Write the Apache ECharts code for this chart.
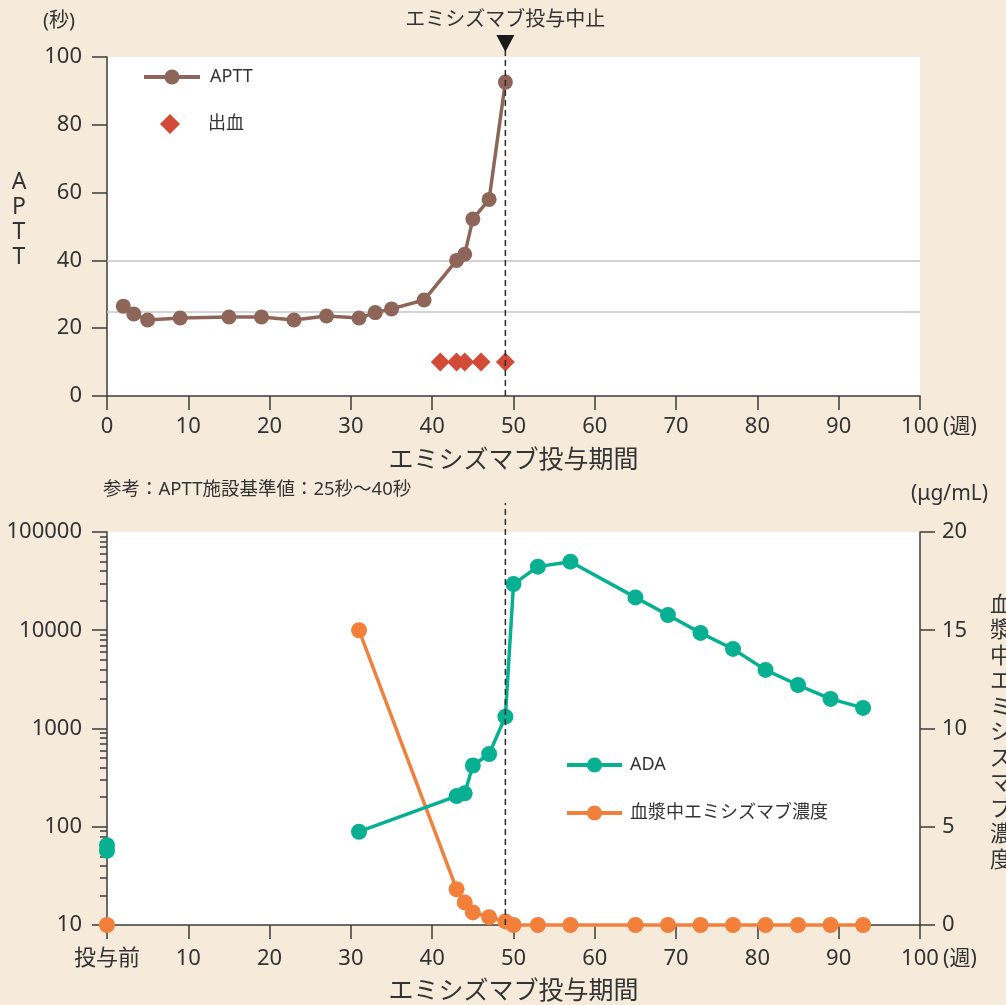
<!DOCTYPE html>
<html>
<head>
<meta charset="utf-8">
<script src="https://cdn.jsdelivr.net/npm/echarts@6/dist/echarts.min.js"></script>
<style>
  html, body { margin: 0; padding: 0; background: #F6EADB; }
  #chart { width: 1006px; height: 1005px; }
</style>
</head>
<body>
<div id="chart"></div>
<script>
// ---- Data ----
const apttWeeks  = [2, 3.3, 5, 9, 15, 19, 23, 27, 31, 33, 35, 39, 43, 44, 45, 47, 49];
const apttValues = [26.5, 24.2, 22.4, 23, 23.3, 23.3, 22.4, 23.6, 23, 24.6, 25.7, 28.3, 40, 41.8, 52.2, 58, 92.6];
const bleedWeeks  = [41, 43, 44, 46, 49];
const bleedValues = [10, 10, 10, 10, 10];
const apttRefRange = [25, 40];
const stopWeek = 49;

const adaPreWeeks  = [0, 0];
const adaPreValues = [65, 57];
const adaWeeks  = [31, 43, 44, 45, 47, 49, 50, 53, 57, 65, 69, 73, 77, 81, 85, 89, 93];
const adaValues = [89, 205, 219, 420, 550, 1320, 29500, 44400, 49900, 21600, 14300, 9400, 6450, 3950, 2770, 2000, 1620];
const concPreWeeks  = [0];
const concPreValues = [0];
const concWeeks  = [31, 43, 44, 45, 47, 49, 50, 53, 57, 65, 69, 73, 77, 81, 85, 89, 93];
const concValues = [15, 1.82, 1.15, 0.64, 0.4, 0.18, 0, 0, 0, 0, 0, 0, 0, 0, 0, 0, 0];

const xTicks = [0, 10, 20, 30, 40, 50, 60, 70, 80, 90, 100];
const apttTicks = [0, 20, 40, 60, 80, 100];
const adaTicks = [10, 100, 1000, 10000, 100000];
const concTicks = [0, 5, 10, 15, 20];

// ---- Styles ----
const FONT = '"Noto Sans", "Noto Sans CJK JP", sans-serif';
const TXT = '#333333';
const AX = '#3d3d3d';
const BROWN = '#8E6559';
const RED = '#D24B37';
const TEAL = '#07B091';
const ORANGE = '#F2803B';

const zip = (a, b) => a.map((v, i) => [v, b[i]]);

function xAxisCfg(gridIndex, zeroLabel, nameGap, labelMargin) {
  return {
    type: 'value', gridIndex, min: xTicks[0], max: xTicks[xTicks.length - 1], interval: 10,
    name: 'エミシズマブ投与期間', nameLocation: 'middle', nameGap,
    nameTextStyle: { fontFamily: FONT, fontSize: 25, color: TXT },
    axisLine: { show: true, lineStyle: { color: AX, width: 1.5 } },
    axisTick: { show: true, length: 14, lineStyle: { color: AX, width: 1.5 } },
    axisLabel: {
      margin: labelMargin, fontFamily: FONT, fontSize: 22, color: TXT,
      formatter: v => v === 0 && zeroLabel ? zeroLabel : (v === 100 ? '{p|}100{u|(週)}' : String(v)),
      rich: {
        p: { width: 40, fontSize: 22 },
        u: { fontFamily: FONT, fontSize: 21, color: TXT, padding: [0, 0, 0, 2], width: 38 }
      }
    },
    splitLine: { show: false }
  };
}

const legendText = { fontFamily: FONT, fontSize: 18, color: TXT };

const chart = echarts.init(document.getElementById('chart'), null, { renderer: 'canvas' });

const option = {
  backgroundColor: '#F6EADB',
  animation: false,
  textStyle: { fontFamily: FONT },
  grid: [
    { left: 107, right: 86, top: 57, height: 339, show: true, backgroundColor: '#ffffff', borderWidth: 0 },
    { left: 107, right: 86, top: 532, height: 393, show: true, backgroundColor: '#ffffff', borderWidth: 0 }
  ],
  legend: [
    {
      data: ['APTT'], orient: 'vertical', left: 142, top: 68, padding: 0,
      itemWidth: 56, itemHeight: 19,
      lineStyle: { width: 4 },
      textStyle: Object.assign({ padding: [0, 0, 0, 5] }, legendText)
    },
    {
      data: ['出血'], orient: 'vertical', left: 160, top: 114, padding: 0,
      itemWidth: 20, itemHeight: 20,
      textStyle: Object.assign({ padding: [0, 0, 0, 23] }, legendText)
    },
    {
      data: ['ADA', '血漿中エミシズマブ濃度'], orient: 'vertical', left: 565, top: 756, padding: 0,
      itemWidth: 55, itemHeight: 19, itemGap: 30,
      lineStyle: { width: 4 },
      textStyle: Object.assign({ padding: [0, 0, 0, 3] }, legendText)
    }
  ],
  xAxis: [ xAxisCfg(0, null, 52, 20), xAxisCfg(1, '投与前', 54, 23) ],
  yAxis: [
    {
      type: 'value', gridIndex: 0, min: apttTicks[0], max: apttTicks[apttTicks.length - 1], interval: 20,
      axisLine: { show: true, lineStyle: { color: AX, width: 1.5 } },
      axisTick: { show: true, length: 15, lineStyle: { color: AX, width: 1.5 } },
      axisLabel: { margin: 25, fontFamily: FONT, fontSize: 22, color: TXT },
      splitLine: { show: false }
    },
    {
      type: 'log', gridIndex: 1, logBase: 10, min: adaTicks[0], max: adaTicks[adaTicks.length - 1],
      axisLine: { show: true, lineStyle: { color: AX, width: 1.5 } },
      axisTick: { show: true, length: 15, lineStyle: { color: AX, width: 1.5 } },
      minorTick: { show: true, splitNumber: 9, length: 7, lineStyle: { color: AX, width: 1.5 } },
      axisLabel: { margin: 25, fontFamily: FONT, fontSize: 22, color: TXT, formatter: v => String(Math.round(v)) },
      splitLine: { show: false }, minorSplitLine: { show: false }
    },
    {
      type: 'value', gridIndex: 1, position: 'right', min: concTicks[0], max: concTicks[concTicks.length - 1], interval: 5,
      axisLine: { show: true, lineStyle: { color: AX, width: 1.5 } },
      axisTick: { show: true, length: 15, lineStyle: { color: AX, width: 1.5 } },
      axisLabel: { margin: 22, fontFamily: FONT, fontSize: 22, color: TXT },
      splitLine: { show: false }
    }
  ],
  graphic: [
    { type: 'text', left: 43, top: 11, style: { text: '(秒)', fontFamily: FONT, fontSize: 20, fill: TXT } },
    { type: 'text', x: 19, y: 220, style: { text: 'A\nP\nT\nT', fontFamily: FONT, fontSize: 23, lineHeight: 25, fill: TXT, align: 'center', verticalAlign: 'middle' } },
    { type: 'text', left: 103, top: 480, style: { text: '参考：APTT施設基準値：25秒～40秒', fontFamily: FONT, fontSize: 18.5, fill: TXT } },
    { type: 'text', left: 911, top: 484, style: { text: '(μg/mL)', fontFamily: FONT, fontSize: 21, fill: TXT } },
    { type: 'text', x: 1001, y: 733, style: { text: '血\n漿\n中\nエ\nミ\nシ\nズ\nマ\nブ\n濃\n度', fontFamily: FONT, fontSize: 22, lineHeight: 25.5, fill: TXT, align: 'center', verticalAlign: 'middle' } }
  ],
  series: [
    {
      name: 'APTT', type: 'line', xAxisIndex: 0, yAxisIndex: 0, z: 3,
      data: zip(apttWeeks, apttValues),
      symbol: 'circle', symbolSize: 15,
      lineStyle: { color: BROWN, width: 3.5 }, itemStyle: { color: BROWN },
      markLine: {
        silent: true, symbol: 'none', z: 1, label: { show: false },
        lineStyle: { color: '#c6c6c6', type: 'solid', width: 1.5 },
        data: apttRefRange.map(v => ({ yAxis: v }))
      }
    },
    {
      name: '出血', type: 'scatter', xAxisIndex: 0, yAxisIndex: 0, z: 3,
      data: zip(bleedWeeks, bleedValues),
      symbol: 'diamond', symbolSize: [19, 19],
      itemStyle: { color: RED, opacity: 1 }
    },
    {
      name: 'stop', type: 'custom', xAxisIndex: 0, yAxisIndex: 0, z: 5, clip: false, silent: true,
      data: [[stopWeek]],
      renderItem: (params, api) => {
        const p0 = api.coord([api.value(0), apttTicks[0]]);
        const p1 = api.coord([api.value(0), apttTicks[apttTicks.length - 1]]);
        const x = p0[0];
        return {
          type: 'group', children: [
            { type: 'line', shape: { x1: x, y1: p0[1], x2: x, y2: p1[1] - 7 }, style: { stroke: '#2a2a2a', lineWidth: 1.5, lineDash: [6, 4] } },
            { type: 'polygon', shape: { points: [[x - 9, p1[1] - 22], [x + 9, p1[1] - 22], [x, p1[1] - 5]] }, style: { fill: '#1a1a1a' } },
            { type: 'text', style: { text: 'エミシズマブ投与中止', x: x, y: p1[1] - 37, align: 'center', verticalAlign: 'middle', fontFamily: FONT, fontSize: 20, fill: TXT } }
          ]
        };
      }
    },
    {
      name: '血漿中エミシズマブ濃度', type: 'line', xAxisIndex: 1, yAxisIndex: 2, z: 3, clip: false,
      data: zip(concWeeks, concValues),
      symbol: 'circle', symbolSize: 16,
      lineStyle: { color: ORANGE, width: 3.5 }, itemStyle: { color: ORANGE }
    },
    {
      name: '血漿中エミシズマブ濃度', type: 'line', xAxisIndex: 1, yAxisIndex: 2, z: 3, clip: false,
      data: zip(concPreWeeks, concPreValues),
      symbol: 'circle', symbolSize: 16,
      lineStyle: { color: ORANGE, width: 3.5 }, itemStyle: { color: ORANGE }
    },
    {
      name: 'ADA', type: 'line', xAxisIndex: 1, yAxisIndex: 1, z: 4, clip: false,
      data: zip(adaWeeks, adaValues),
      symbol: 'circle', symbolSize: 16,
      lineStyle: { color: TEAL, width: 3.5 }, itemStyle: { color: TEAL }
    },
    {
      name: 'ADA', type: 'line', xAxisIndex: 1, yAxisIndex: 1, z: 4, clip: false,
      data: zip(adaPreWeeks, adaPreValues),
      symbol: 'circle', symbolSize: 16,
      lineStyle: { color: TEAL, width: 3.5 }, itemStyle: { color: TEAL }
    },
    {
      name: 'stop2', type: 'custom', xAxisIndex: 1, yAxisIndex: 1, z: 5, clip: false, silent: true,
      data: [[stopWeek]],
      renderItem: (params, api) => {
        const p0 = api.coord([api.value(0), adaTicks[0]]);
        const p1 = api.coord([api.value(0), adaTicks[adaTicks.length - 1]]);
        return {
          type: 'line', shape: { x1: p0[0], y1: p0[1], x2: p0[0], y2: p1[1] - 29 },
          style: { stroke: '#2a2a2a', lineWidth: 1.5, lineDash: [6, 4] }
        };
      }
    }
  ]
};

chart.setOption(option);
</script>
</body>
</html>
